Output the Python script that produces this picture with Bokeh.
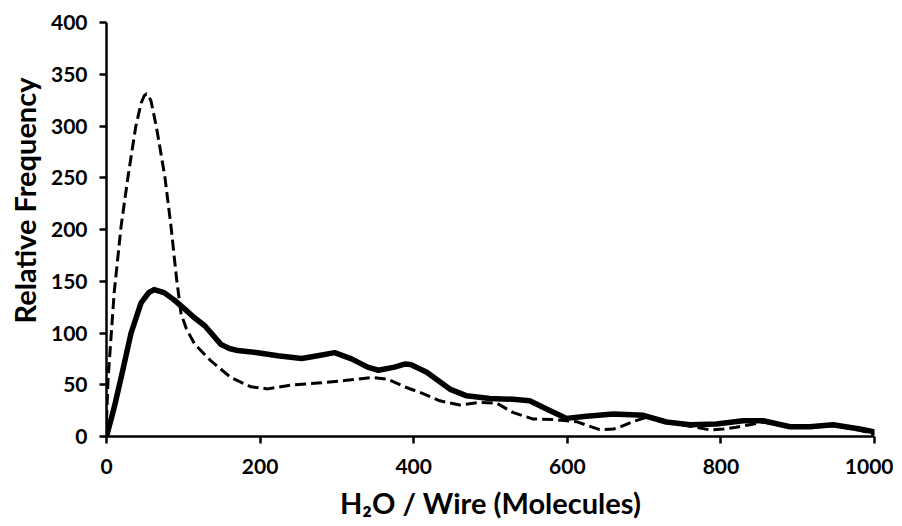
from bokeh.plotting import figure
from bokeh.models import Range1d, FixedTicker, Title
from bokeh.embed import file_html
from bokeh.resources import INLINE

# --- data ---
solid_x = [0, 10, 20, 32, 45, 55, 62, 75, 88, 102, 114, 128, 149, 160, 171, 197, 223, 254, 275,
           297, 319, 340, 354, 375, 388, 396, 417, 447, 469, 499, 529, 551, 573, 599, 625,
           660, 699, 729, 760, 794, 829, 855, 890, 916, 946, 981, 1000]
solid_y = [0, 28, 60, 100, 129, 139, 142, 139, 132, 123, 115, 107, 89, 85, 83, 81, 78, 75.4, 78,
           81, 75, 67, 64, 67, 70, 69.5, 62, 45.8, 39.3, 36.8, 36, 34.5, 26.5, 17.5, 19.5,
           21.7, 20.5, 14, 11.4, 12, 15.2, 15.2, 9.4, 9.4, 11.4, 7.2, 4.5]

dashed_x = [0, 2, 10, 19, 28, 38, 45, 49, 52, 55, 58, 65, 76, 84, 91, 97, 104, 115, 136, 162, 188,
            210, 240, 280, 310, 345, 366, 388, 408, 434, 460, 486, 508, 529, 555, 586, 612,
            642, 660, 668, 686, 703, 730, 760, 786, 803, 820, 838, 855, 890, 916, 946, 981, 1000]
dashed_y = [15, 55, 139, 203, 251, 299, 322, 329, 331, 329, 324, 299, 251, 203, 154, 119, 104, 89, 73, 57, 48,
            46, 49.6, 52, 54, 57, 55.4, 48, 42.6, 34.5, 30.4, 33, 32.3, 23.3, 17, 16.2, 14.3,
            6.6, 7.2, 8.9, 14.5, 18.5, 14, 10, 6.3, 7.2, 8.9, 11.4, 14, 9, 9, 10.5, 6, 2]

x_ticks = [0, 200, 400, 600, 800, 1000]
y_ticks = [0, 50, 100, 150, 200, 250, 300, 350, 400]

FONT = "Lato"

p = figure(width=893, height=526, output_backend="svg", toolbar_location=None,
           x_range=Range1d(0, 1000), y_range=Range1d(0, 400),
           min_border_left=106, min_border_right=19, min_border_top=22, min_border_bottom=90)
p.outline_line_color = None
p.xgrid.grid_line_color = None
p.ygrid.grid_line_color = None

p.line(dashed_x, dashed_y, line_color="black", line_width=3, line_dash="11 5", line_join="round")
p.line(solid_x, solid_y, line_color="black", line_width=5.5, line_join="round", line_cap="round")

for ax in (p.xaxis[0], p.yaxis[0]):
    ax.axis_line_color = "black"
    ax.axis_line_width = 2.5
    ax.major_tick_line_color = "black"
    ax.major_tick_line_width = 2.5
    ax.major_tick_in = 0
    ax.major_tick_out = 7
    ax.minor_tick_line_color = None
    ax.major_label_text_font = FONT
    ax.major_label_text_font_style = "bold"
    ax.major_label_text_font_size = "21px"
    ax.major_label_text_color = "black"

p.xaxis.ticker = FixedTicker(ticks=x_ticks)
p.yaxis.ticker = FixedTicker(ticks=y_ticks)
p.xaxis.major_label_standoff = 15
p.yaxis.major_label_standoff = 12

p.xaxis.axis_label = "H\u2082O / Wire (Molecules)"
p.xaxis.axis_label_text_font = FONT
p.xaxis.axis_label_text_font_style = "bold"
p.xaxis.axis_label_text_font_size = "29px"
p.xaxis.axis_label_text_color = "black"
p.xaxis.axis_label_standoff = 8

ytitle = Title(text="Relative Frequency", align="right", offset=55, vertical_align="top",
               standoff=8, text_font=FONT, text_font_style="bold", text_font_size="29px",
               text_color="black")
p.add_layout(ytitle, "left")

open("out.html", "w").write(file_html(p, INLINE))
